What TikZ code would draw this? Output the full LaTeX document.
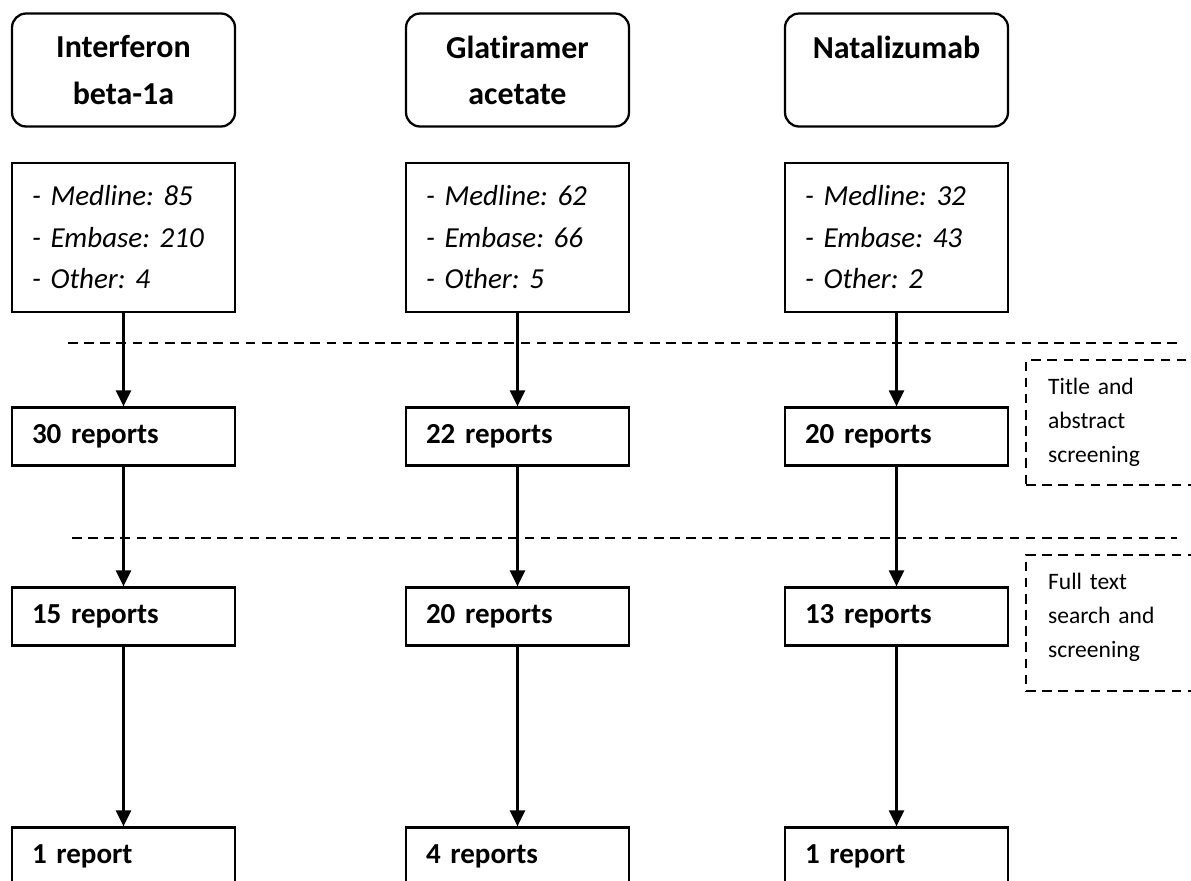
\documentclass[tikz,border=0pt]{standalone}
\usepackage{fontspec}
\setmainfont{Carlito}[Ligatures=NoCommon]
\usetikzlibrary{arrows.meta, positioning}

\begin{document}
\frenchspacing
\begin{tikzpicture}[x=0.02cm, y=-0.02cm,
  drug/.style={draw, line width=1.3pt, rounded corners=8pt,
    minimum width=4.46cm, minimum height=2.26cm, align=center,
    font=\fontsize{18.2}{26.2}\selectfont\bfseries},
  hits/.style={draw, line width=1.3pt, minimum height=2.98cm,
    inner xsep=0.4cm, text width=3.66cm, align=left,
    font=\fontsize{16.5}{23.6}\selectfont\itshape},
  rep/.style={draw, line width=1.3pt, minimum height=1.16cm,
    inner xsep=0.4cm, text width=3.66cm, align=left,
    font=\fontsize{16.5}{23.6}\selectfont\bfseries},
  flow/.style={line width=1.3pt, -{Triangle[length=0.32cm,width=0.3cm]}},
  cut/.style={line width=1.3pt, dash pattern=on 5.5pt off 3.7pt},
  stage/.style={draw, cut, anchor=north west, inner xsep=0.44cm,
    text width=4cm, align=left, font=\fontsize{13.4}{19.4}\selectfont}
]
\useasboundingbox (0,0) rectangle (1191,880);

% drug columns
\node[drug] (ifn) at (123.5,70) {Interferon\\beta-1a};
\node[drug] (gla) at (517.5,70) {Glatiramer\\acetate};
\node[drug] (nat) at (896.5,70) {Natalizumab\\\phantom{beta-1a}};

\node[hits] (ifnDB) at (123.5,237.5) {- Medline: 85\\- Embase: 210\\- Other: 4};
\node[hits] (glaDB) at (517.5,237.5) {- Medline: 62\\- Embase: 66\\- Other: 5};
\node[hits] (natDB) at (896.5,237.5) {- Medline: 32\\- Embase: 43\\- Other: 2};

\node[rep] (ifnTA) at (123.5,436.5) {30 reports};
\node[rep] (glaTA) at (517.5,436.5) {22 reports};
\node[rep] (natTA) at (896.5,436.5) {20 reports};

\node[rep] (ifnFT) at (123.5,616.5) {15 reports};
\node[rep] (glaFT) at (517.5,616.5) {20 reports};
\node[rep] (natFT) at (896.5,616.5) {13 reports};

\node[rep] (ifnIN) at (123.5,856.5) {1 report};
\node[rep] (glaIN) at (517.5,856.5) {4 reports};
\node[rep] (natIN) at (896.5,856.5) {1 report};

\draw[flow] (ifnDB) -- (ifnTA);
\draw[flow] (glaDB) -- (glaTA);
\draw[flow] (natDB) -- (natTA);
\draw[flow] (ifnTA) -- (ifnFT);
\draw[flow] (glaTA) -- (glaFT);
\draw[flow] (natTA) -- (natFT);
\draw[flow] (ifnFT) -- (ifnIN);
\draw[flow] (glaFT) -- (glaIN);
\draw[flow] (natFT) -- (natIN);

% screening stages
\draw[cut] (68,343) -- (1177,343);
\draw[cut] (72,538) -- (1177,538);

\node[stage, minimum height=2.5cm] (tiab) at (1025,359)
  {Title and\\abstract\\screening};
\node[stage, minimum height=2.72cm] (full) at (1025,554)
  {Full text\\search and\\screening\rule[-9pt]{0pt}{9pt}};
\end{tikzpicture}
\end{document}
